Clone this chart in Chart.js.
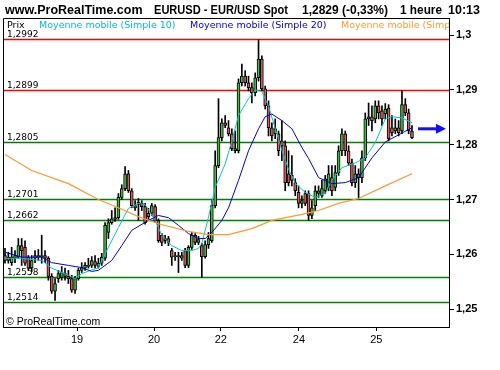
<!DOCTYPE html>
<html>
<head>
<meta charset="utf-8">
<script src="https://cdn.jsdelivr.net/npm/chart.js@4.4.0/dist/chart.umd.min.js"></script>
<style>
  html, body { margin: 0; padding: 0; background: #fff; }
</style>
</head>
<body>
<canvas id="mainChart" width="500" height="370"></canvas>
<script>
// hourly EUR/USD candles (index 0 = first candle)
const opens = [1.2598,1.2595,1.2585,1.2593,1.2595,1.2616,1.2613,1.2595,1.2576,1.2593,
  1.2596,1.2596,1.2598,1.2593,1.2560,1.2533,1.2556,1.2558,1.2565,1.2560,
  1.2556,1.2535,1.2556,1.2571,1.2575,1.2578,1.2580,1.2587,1.2578,1.2584,
  1.2593,1.2640,1.2658,1.2664,1.2667,1.2704,1.2720,1.2747,1.2716,1.2689,
  1.2691,1.2693,1.2687,1.2675,1.2675,1.2687,1.2662,1.2635,1.2625,1.2629,
  1.2607,1.2596,1.2596,1.2598,1.2607,1.2580,1.2613,1.2635,1.2622,1.2616,
  1.2596,1.2618,1.2625,1.2689,1.2762,1.2813,1.2840,1.2831,1.2820,1.2789,
  1.2789,1.2913,1.2925,1.2913,1.2904,1.2895,1.2922,1.2956,1.2902,1.2871,
  1.2831,1.2820,1.2820,1.2807,1.2798,1.2747,1.2744,1.2731,1.2713,1.2693,
  1.2711,1.2711,1.2671,1.2689,1.2711,1.2707,1.2716,1.2722,1.2740,1.2722,
  1.2749,1.2789,1.2820,1.2789,1.2767,1.2731,1.2747,1.2740,1.2776,1.2847,
  1.2851,1.2847,1.2871,1.2862,1.2856,1.2867,1.2831,1.2825,1.2831,1.2825,
  1.2873,1.2858,1.2825];
const closes = [1.2589,1.2589,1.2595,1.2598,1.2616,1.2607,1.2584,1.2575,1.2589,1.2598,
  1.2598,1.2598,1.2593,1.2560,1.2533,1.2547,1.2565,1.2567,1.2560,1.2556,
  1.2535,1.2556,1.2571,1.2576,1.2580,1.2580,1.2589,1.2580,1.2584,1.2595,
  1.2653,1.2658,1.2665,1.2667,1.2704,1.2720,1.2747,1.2716,1.2689,1.2685,
  1.2695,1.2687,1.2658,1.2669,1.2689,1.2662,1.2625,1.2622,1.2629,1.2622,
  1.2595,1.2598,1.2598,1.2593,1.2580,1.2613,1.2635,1.2622,1.2627,1.2596,
  1.2618,1.2629,1.2689,1.2762,1.2813,1.2840,1.2835,1.2820,1.2793,1.2793,
  1.2913,1.2925,1.2913,1.2904,1.2895,1.2922,1.2956,1.2902,1.2871,1.2831,
  1.2816,1.2829,1.2789,1.2798,1.2731,1.2731,1.2735,1.2716,1.2693,1.2698,
  1.2693,1.2671,1.2685,1.2716,1.2716,1.2720,1.2738,1.2747,1.2716,1.2749,
  1.2789,1.2820,1.2789,1.2767,1.2731,1.2747,1.2740,1.2776,1.2847,1.2851,
  1.2844,1.2871,1.2858,1.2847,1.2865,1.2811,1.2822,1.2831,1.2822,1.2873,
  1.2858,1.2825,1.2813];
const highs = [1.2611,1.2604,1.2613,1.2607,1.2629,1.2629,1.2625,1.2598,1.2598,1.2607,
  1.2609,1.2635,1.2607,1.2596,1.2565,1.2556,1.2571,1.2578,1.2575,1.2571,
  1.2562,1.2560,1.2575,1.2585,1.2585,1.2593,1.2596,1.2598,1.2593,1.2602,
  1.2658,1.2665,1.2680,1.2685,1.2711,1.2727,1.2760,1.2753,1.2720,1.2698,
  1.2702,1.2698,1.2693,1.2684,1.2693,1.2691,1.2665,1.2638,1.2635,1.2633,
  1.2611,1.2604,1.2604,1.2604,1.2611,1.2616,1.2640,1.2638,1.2633,1.2620,
  1.2625,1.2640,1.2698,1.2789,1.2884,1.2847,1.2853,1.2844,1.2829,1.2825,
  1.2920,1.2947,1.2935,1.2925,1.2913,1.2931,1.2991,1.2962,1.2907,1.2880,
  1.2840,1.2847,1.2825,1.2844,1.2807,1.2789,1.2780,1.2738,1.2725,1.2707,
  1.2716,1.2716,1.2698,1.2725,1.2725,1.2735,1.2744,1.2762,1.2762,1.2762,
  1.2798,1.2829,1.2825,1.2798,1.2774,1.2762,1.2756,1.2789,1.2858,1.2876,
  1.2871,1.2880,1.2880,1.2871,1.2875,1.2873,1.2853,1.2847,1.2844,1.2898,
  1.2884,1.2865,1.2835];
const lows = [1.2584,1.2584,1.2580,1.2585,1.2593,1.2580,1.2580,1.2571,1.2569,1.2585,
  1.2589,1.2584,1.2585,1.2553,1.2529,1.2516,1.2549,1.2553,1.2553,1.2547,
  1.2531,1.2529,1.2553,1.2567,1.2571,1.2575,1.2576,1.2575,1.2575,1.2580,
  1.2589,1.2629,1.2655,1.2660,1.2664,1.2700,1.2716,1.2713,1.2685,1.2680,
  1.2662,1.2680,1.2655,1.2664,1.2671,1.2658,1.2622,1.2616,1.2620,1.2616,
  1.2580,1.2589,1.2567,1.2589,1.2576,1.2576,1.2609,1.2618,1.2618,1.2558,
  1.2593,1.2611,1.2622,1.2685,1.2758,1.2807,1.2831,1.2816,1.2789,1.2785,
  1.2785,1.2907,1.2907,1.2898,1.2876,1.2889,1.2916,1.2898,1.2865,1.2816,
  1.2807,1.2811,1.2780,1.2771,1.2716,1.2725,1.2725,1.2707,1.2685,1.2685,
  1.2689,1.2662,1.2665,1.2680,1.2704,1.2704,1.2711,1.2716,1.2707,1.2716,
  1.2744,1.2780,1.2780,1.2762,1.2725,1.2722,1.2702,1.2731,1.2771,1.2835,
  1.2825,1.2840,1.2847,1.2835,1.2847,1.2807,1.2816,1.2820,1.2816,1.2820,
  1.2853,1.2820,1.2811];

// moving averages as [candle index, value]
const sma10 = [[0,1.2593],[5,1.2593],[11,1.2589],[14,1.2575],[19,1.2562],[21,1.2556],[23,1.2565],
  [28,1.2576],[31,1.2613],[34,1.2649],[37,1.2684],[40,1.2693],[42,1.2691],[45,1.2662],[47,1.2635],
  [50,1.2616],[53,1.2607],[56,1.2607],[58,1.2611],[59,1.2620],[61,1.2668],[63,1.2722],[66,1.2765],
  [68,1.2807],[70,1.2853],[73,1.2884],[75,1.2900],[77,1.2897],[79,1.2870],[81,1.2830],[83,1.2790],
  [85,1.2755],[87,1.2730],[90,1.2713],[93,1.2704],[96,1.2711],[98,1.2735],[101,1.2758],[105,1.2767],
  [108,1.2776],[111,1.2804],[114,1.2847],[116,1.2851],[119,1.2849],[122,1.2840]];
const sma20 = [[0,1.2604],[5,1.2595],[11,1.2595],[14,1.2585],[19,1.2580],[23,1.2576],[26,1.2569],
  [28,1.2571],[32,1.2589],[35,1.2616],[38,1.2644],[43,1.2662],[46,1.2671],[49,1.2667],[52,1.2653],
  [55,1.2638],[58,1.2629],[60,1.2629],[62,1.2640],[65,1.2662],[67,1.2685],[70,1.2735],[73,1.2789],
  [76,1.2829],[78,1.2851],[80,1.2856],[83,1.2844],[86,1.2829],[89,1.2795],[91,1.2775],[94,1.2740],
  [98,1.2729],[102,1.2731],[106,1.2740],[110,1.2776],[114,1.2805],[118,1.2818],[122,1.2831]];
const smaLong = [[0,1.2782],[8,1.2753],[19,1.2729],[28,1.2700],[34,1.2685],[40,1.2669],[46,1.2656],
  [55,1.2642],[61,1.2636],[67,1.2636],[74,1.2647],[80,1.2662],[89,1.2673],[94,1.2680],[100,1.2693],
  [106,1.2702],[114,1.2725],[122,1.2747]];

const redLevels = [1.2992, 1.2899];
const greenLevels = [1.2805, 1.2701, 1.2662, 1.2558, 1.2514];
const priceTicks = [1.25, 1.26, 1.27, 1.28, 1.29, 1.3];
const dayTickIndex = [21.6, 44.7, 64.7, 88.1, 111.3];
const dayTickLabels = ['19', '20', '22', '24', '25'];
const lastPrice = 1.2829;

// [text, x, max width]
const headerParts = [
  ['www.ProRealTime.com', 5, 139],
  ['EURUSD - EUR/USD Spot', 154, 134],
  ['1,2829 (-0,33%)', 302, 86],
  ['1 heure', 400, 42],
  ['10:13', 448, 32]
];
const legendParts = [
  ['Prix', '#000000', 7],
  ['Moyenne mobile (Simple 10)', '#00bfbf', 39],
  ['Moyenne mobile (Simple 20)', '#0000cc', 190],
  ['Moyenne mobile (Simple 100)', '#ff9933', 341]
];

function fmt(v) {
  return String(v).replace('.', ',');
}

const decor = {
  id: 'decor',
  beforeDatasetsDraw(chart) {
    const ctx = chart.ctx;
    const area = chart.chartArea;
    const y = chart.scales.y;
    ctx.save();
    ctx.font = '9px "DejaVu Sans"';
    ctx.textBaseline = 'alphabetic';
    ctx.lineWidth = 1.3;
    const draw = (lvl, color) => {
      const py = Math.round(y.getPixelForValue(lvl)) + 0.5;
      ctx.strokeStyle = color;
      ctx.beginPath();
      ctx.moveTo(area.left, py);
      ctx.lineTo(area.right, py);
      ctx.stroke();
      ctx.fillStyle = '#000';
      ctx.fillText(fmt(lvl.toFixed(4)), 7, py - 3);
    };
    redLevels.forEach(l => draw(l, '#ff0000'));
    greenLevels.forEach(l => draw(l, '#008000'));
    ctx.restore();
  },
  afterDraw(chart) {
    const ctx = chart.ctx;
    const area = chart.chartArea;
    const y = chart.scales.y;
    ctx.save();
    // box left / top
    ctx.strokeStyle = '#000';
    ctx.lineWidth = 1;
    ctx.beginPath();
    ctx.moveTo(area.left + 0.5, area.bottom);
    ctx.lineTo(area.left + 0.5, area.top + 0.5);
    ctx.lineTo(area.right, area.top + 0.5);
    ctx.stroke();

    // header
    ctx.fillStyle = '#000';
    ctx.font = 'bold 12.5px "Liberation Sans"';
    ctx.textBaseline = 'alphabetic';
    headerParts.forEach(p => ctx.fillText(p[0], p[1], 14, p[2]));

    // legend, clipped to plot
    ctx.save();
    ctx.beginPath();
    ctx.rect(area.left, area.top, area.right - area.left, 20);
    ctx.clip();
    ctx.font = '9.5px "DejaVu Sans"';
    legendParts.forEach(p => {
      ctx.fillStyle = p[1];
      ctx.fillText(p[0], p[2], 28);
    });
    ctx.restore();

    // copyright
    ctx.fillStyle = '#000';
    ctx.font = '10.5px "Liberation Sans"';
    ctx.fillText('\u00a9 ProRealTime.com', 6, 325);

    // last price arrow
    const py = y.getPixelForValue(lastPrice);
    ctx.strokeStyle = '#1010ff';
    ctx.fillStyle = '#1010ff';
    ctx.lineWidth = 3;
    ctx.beginPath();
    ctx.moveTo(418, py);
    ctx.lineTo(437, py);
    ctx.stroke();
    ctx.beginPath();
    ctx.moveTo(436, py - 5);
    ctx.lineTo(446, py);
    ctx.lineTo(436, py + 5);
    ctx.closePath();
    ctx.fill();
    ctx.restore();
  }
};

const wickData = opens.map((o, i) => ({ x: i, y: [lows[i], highs[i]] }));
const bodyData = opens.map((o, i) => ({ x: i, y: [o, closes[i]] }));
const bodyColors = opens.map((o, i) => closes[i] >= o ? '#3cbf3c' : '#d65a5a');
const toPts = arr => arr.map(p => ({ x: p[0], y: p[1] }));

const ctx = document.getElementById('mainChart').getContext('2d');
const chart = new Chart(ctx, {
  type: 'bar',
  data: {
    datasets: [
      {
        type: 'line',
        data: toPts(smaLong),
        borderColor: '#ff9933',
        borderWidth: 1.2,
        pointRadius: 0,
        order: 0
      },
      {
        type: 'line',
        data: toPts(sma20),
        borderColor: '#0000cc',
        borderWidth: 1,
        pointRadius: 0,
        order: 0
      },
      {
        type: 'line',
        data: toPts(sma10),
        borderColor: '#00c8c8',
        borderWidth: 1,
        pointRadius: 0,
        order: 0
      },
      {
        data: bodyData,
        backgroundColor: bodyColors,
        borderColor: '#000',
        borderWidth: 1,
        borderSkipped: false,
        barThickness: 3,
        minBarLength: 1,
        grouped: false,
        order: 1
      },
      {
        data: wickData,
        backgroundColor: '#000',
        borderWidth: 0,
        barThickness: 1,
        grouped: false,
        order: 2
      }
    ]
  },
  options: {
    responsive: false,
    animation: false,
    devicePixelRatio: 1,
    layout: { padding: { left: 3, top: 18, right: 0, bottom: 0 } },
    plugins: { legend: { display: false }, tooltip: { enabled: false } },
    scales: {
      x: {
        type: 'linear',
        min: -0.6,
        max: 133.1,
        offset: false,
        afterBuildTicks: s => { s.ticks = dayTickIndex.map(v => ({ value: v })); },
        afterFit: s => { s.height = 43; },
        grid: { offset: false, drawOnChartArea: false, tickLength: 4, color: '#000' },
        border: { color: '#000', width: 1 },
        ticks: {
          autoSkip: false,
          maxRotation: 0,
          padding: 2,
          color: '#000',
          font: { family: 'Liberation Sans', size: 11 },
          callback: (v, i) => dayTickLabels[i]
        }
      },
      y: {
        type: 'linear',
        position: 'right',
        min: 1.24677,
        max: 1.30310,
        afterBuildTicks: s => { s.ticks = priceTicks.map(v => ({ value: v })); },
        afterFit: s => { s.width = 51; },
        grid: { drawOnChartArea: false, tickLength: 5, color: '#000' },
        border: { color: '#000', width: 1 },
        ticks: {
          padding: 2,
          color: '#000',
          font: { family: 'Liberation Sans', size: 11, weight: 'bold' },
          callback: v => fmt(Math.round(v * 100) / 100)
        }
      }
    }
  },
  plugins: [decor]
});
</script>
</body>
</html>
